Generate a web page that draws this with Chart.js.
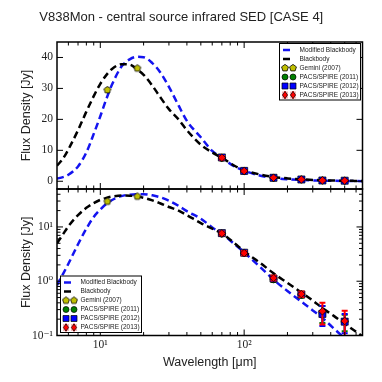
<!DOCTYPE html>
<html>
<head>
<meta charset="utf-8">
<script src="https://cdn.jsdelivr.net/npm/chart.js@4.4.0/dist/chart.umd.min.js"></script>
<style>
html, body { margin: 0; padding: 0; background: #fff; }
#wrap { position: relative; width: 382px; height: 382px; }
#wrap canvas { position: absolute; left: 0; top: 0; }
</style>
</head>
<body>
<div id="wrap">
<canvas id="topChart" width="382" height="382"></canvas>
<canvas id="botChart" width="382" height="382"></canvas>
</div>
<script>
// model curves (Jy)
var wavelength = [5, 5.5, 6, 7, 8, 9, 10, 11, 12, 14, 16, 18, 20, 23, 26, 30, 35, 40, 50, 60, 70, 85, 100, 130, 160, 200, 250, 300, 350, 420, 500, 580, 670];
var modifiedBlackbody = [0.85, 1.35, 2.1, 4.8, 9.3, 15.3, 21.0, 26.5, 31.0, 37.0, 39.4, 40.2, 40.1, 38.2, 35.3, 30.5, 24.5, 19.5, 14.2, 9.8, 7.5, 4.9, 3.4, 1.8, 1.07, 0.66, 0.42, 0.29, 0.21, 0.135, 0.088, 0.06, 0.042];
var blackbody = [5.0, 7.3, 10.3, 16.5, 22.5, 27.5, 31.5, 34.3, 36.2, 37.8, 37.7, 36.2, 34.4, 30.9, 27.3, 23.3, 20.0, 16.5, 11.8, 9.3, 7.6, 5.1, 3.55, 2.15, 1.4, 0.93, 0.62, 0.44, 0.32, 0.23, 0.165, 0.125, 0.095];

// photometry
var geminiWave = [11.2, 18.1];
var geminiFlux = [29.5, 36.5];
var pacsWave = [70, 100, 160, 250, 350, 500];
var pacs2011 = [7.5, 3.3, 1.08, 0.56, 0.26, 0.18];
var pacs2011Err = [0.5, 0.25, 0.1, 0.06, 0.09, 0.06];
var pacs2012 = [7.7, 3.35, 1.12, 0.57, 0.25, 0.18];
var pacs2012Err = [0.5, 0.25, 0.1, 0.06, 0.1, 0.07];
var pacs2013 = [7.6, 3.3, 1.15, 0.58, 0.28, 0.185];
var pacs2013Err = [0.6, 0.3, 0.12, 0.07, 0.12, 0.1];

// ticks
var xMajorTicks = [10, 100];
var xTickLabels = ['10\u00b9', '10\u00b2'];
var xMinorTicks = [6, 7, 8, 9, 20, 30, 40, 50, 60, 70, 80, 90, 200, 300, 400, 500, 600];
var linTicks = [0, 10, 20, 30, 40];
var logTicks = [0.1, 1, 10];
var logTickLabels = ['10\u207b\u00b9', '10\u2070', '10\u00b9'];
var logMinorTicks = [0.2, 0.3, 0.4, 0.5, 0.6, 0.7, 0.8, 0.9, 2, 3, 4, 5, 6, 7, 8, 9, 20, 30, 40, 50];

var BLUE = '#1414f0';
var sans = '"Liberation Sans", Arial, sans-serif';
var serif = '"Liberation Serif", "DejaVu Serif", serif';

function makePentagon(r) {
  var c = document.createElement('canvas');
  var s = Math.ceil(r * 2 + 2);
  c.width = s; c.height = s;
  var g = c.getContext('2d');
  g.beginPath();
  for (var i = 0; i < 5; i++) {
    var a = -Math.PI / 2 + i * 2 * Math.PI / 5;
    var px = s / 2 + r * Math.cos(a), py = s / 2 + r * Math.sin(a);
    if (i) g.lineTo(px, py); else g.moveTo(px, py);
  }
  g.closePath();
  g.fillStyle = '#bfbf00'; g.fill();
  g.lineWidth = 0.8; g.strokeStyle = '#000'; g.stroke();
  return c;
}
var pentagon = makePentagon(3.6);

function xy(xs, ys) {
  return xs.map(function (x, i) { return { x: x, y: ys[i] }; });
}

// chart.js paints low "order" last, so later series get lower order (on top)
function buildDatasets() {
  return [
    { label: 'Modified Blackbody', order: 6, data: xy(wavelength, modifiedBlackbody), showLine: true, borderColor: BLUE,
      borderWidth: 2.5, borderDash: [7, 4], pointRadius: 0, cubicInterpolationMode: 'monotone' },
    { label: 'Blackbody', order: 5, data: xy(wavelength, blackbody), showLine: true, borderColor: '#000',
      borderWidth: 2.5, borderDash: [7, 4], pointRadius: 0, cubicInterpolationMode: 'monotone' },
    { label: 'Gemini (2007)', order: 4, data: xy(geminiWave, geminiFlux), pointStyle: pentagon, pointRadius: 4 },
    { label: 'PACS/SPIRE (2011)', order: 3, data: xy(pacsWave, pacs2011), errors: pacs2011Err, errorColor: '#008000',
      pointStyle: 'circle', pointRadius: 3.5, backgroundColor: '#008000', borderColor: '#000', borderWidth: 0.7 },
    { label: 'PACS/SPIRE (2012)', order: 2, data: xy(pacsWave, pacs2012), errors: pacs2012Err, errorColor: '#0000ff',
      pointStyle: 'rect', pointRadius: 5, backgroundColor: '#0000ff', borderColor: '#000', borderWidth: 0.7 },
    { label: 'PACS/SPIRE (2013)', order: 1, data: xy(pacsWave, pacs2013), errors: pacs2013Err, errorColor: '#ff0000',
      pointStyle: 'rectRot', pointRadius: 3.8, backgroundColor: '#ff0000', borderColor: '#000', borderWidth: 0.7 }
  ];
}

var errorBars = {
  id: 'errorBars',
  beforeDatasetDraw: function (chart, args) {
    var ds = chart.data.datasets[args.index];
    if (!ds.errors) return;
    var xs = chart.scales.x, ys = chart.scales.y, a = chart.chartArea, ctx = chart.ctx;
    ctx.save();
    ctx.beginPath();
    ctx.rect(a.left, a.top, a.right - a.left, a.bottom - a.top);
    ctx.clip();
    ctx.strokeStyle = ds.errorColor;
    ctx.lineWidth = 2;
    ds.data.forEach(function (p, i) {
      var e = ds.errors[i];
      var px = xs.getPixelForValue(p.x);
      var y1 = ys.getPixelForValue(p.y + e);
      var lo = p.y - e;
      var y2 = (ys.type === 'logarithmic' && lo <= 0) ? a.bottom + 10 : ys.getPixelForValue(lo);
      ctx.beginPath();
      ctx.moveTo(px, y1); ctx.lineTo(px, y2);
      ctx.moveTo(px - 3, y1); ctx.lineTo(px + 3, y1);
      ctx.moveTo(px - 3, y2); ctx.lineTo(px + 3, y2);
      ctx.stroke();
    });
    ctx.restore();
  }
};

function framePlugin(yMajor, yMinor) {
  return {
    id: 'frame',
    afterDatasetsDraw: function (chart) {
      var a = chart.chartArea, ctx = chart.ctx, xs = chart.scales.x, ys = chart.scales.y;
      ctx.save();
      ctx.strokeStyle = '#000';
      ctx.lineWidth = 1;
      ctx.beginPath();
      function xTick(v, len) {
        var px = xs.getPixelForValue(v);
        ctx.moveTo(px, a.top); ctx.lineTo(px, a.top + len);
        ctx.moveTo(px, a.bottom); ctx.lineTo(px, a.bottom - len);
      }
      function yTick(v, len) {
        var py = ys.getPixelForValue(v);
        ctx.moveTo(a.left, py); ctx.lineTo(a.left + len, py);
        ctx.moveTo(a.right, py); ctx.lineTo(a.right - len, py);
      }
      xMajorTicks.forEach(function (v) { xTick(v, 6); });
      xMinorTicks.forEach(function (v) { xTick(v, 3.5); });
      yMajor.forEach(function (v) { yTick(v, 6); });
      yMinor.forEach(function (v) { yTick(v, 3.5); });
      ctx.stroke();
      ctx.lineWidth = 1.5;
      ctx.strokeRect(a.left, a.top, a.right - a.left, a.bottom - a.top);
      ctx.restore();
    }
  };
}

var legendItems = [
  { label: 'Modified Blackbody', line: BLUE },
  { label: 'Blackbody', line: '#000' },
  { label: 'Gemini (2007)', marker: 'pentagon' },
  { label: 'PACS/SPIRE (2011)', marker: 'circle', color: '#008000' },
  { label: 'PACS/SPIRE (2012)', marker: 'square', color: '#0000ff' },
  { label: 'PACS/SPIRE (2013)', marker: 'diamond', color: '#ff0000' }
];

function drawMarker(ctx, item, x, y) {
  ctx.lineWidth = 0.7;
  ctx.strokeStyle = '#000';
  if (item.marker === 'pentagon') {
    ctx.drawImage(pentagon, x - pentagon.width / 2, y - pentagon.height / 2);
    return;
  }
  ctx.fillStyle = item.color;
  ctx.beginPath();
  if (item.marker === 'circle') {
    ctx.arc(x, y, 3, 0, Math.PI * 2);
  } else if (item.marker === 'square') {
    ctx.rect(x - 3, y - 3, 6, 6);
  } else {
    ctx.fillStyle = '#f7b4b4';
    ctx.fillRect(x - 3, y - 3.5, 6, 7);
    ctx.strokeStyle = '#ff0000';
    ctx.lineWidth = 1.2;
    ctx.moveTo(x, y - 4); ctx.lineTo(x, y + 4);
    ctx.stroke();
    ctx.beginPath();
    ctx.strokeStyle = '#000';
    ctx.lineWidth = 0.7;
    ctx.fillStyle = item.color;
    ctx.moveTo(x, y - 3.6); ctx.lineTo(x + 2.6, y); ctx.lineTo(x, y + 3.6); ctx.lineTo(x - 2.6, y);
    ctx.closePath();
  }
  ctx.fill();
  ctx.stroke();
}

function boxLegend(left, top) {
  return {
    id: 'boxLegend',
    afterDraw: function (chart) {
      var ctx = chart.ctx, w = 81, h = 56.5, row = 9;
      ctx.save();
      ctx.fillStyle = '#fff';
      ctx.fillRect(left, top, w, h);
      ctx.strokeStyle = '#000';
      ctx.lineWidth = 1;
      ctx.strokeRect(left + 0.5, top + 0.5, w, h);
      var m1 = left + 6, m2 = left + 14, tx = left + 20.5;
      legendItems.forEach(function (item, i) {
        var y = top + 7 + i * row;
        if (item.line) {
          ctx.strokeStyle = item.line;
          ctx.lineWidth = 2.5;
          ctx.beginPath();
          ctx.moveTo(left + 4, y); ctx.lineTo(left + 11, y);
          ctx.stroke();
        } else {
          drawMarker(ctx, item, m1, y);
          drawMarker(ctx, item, m2, y);
        }
        ctx.fillStyle = '#222';
        ctx.font = '6.5px ' + sans;
        ctx.textBaseline = 'middle';
        ctx.fillText(item.label, tx, y);
      });
      ctx.restore();
    }
  };
}

var yTitle = { display: true, text: 'Flux Density [Jy]', color: '#222',
  font: { family: sans, size: 12.5 }, padding: { top: 19, bottom: 0 } };

new Chart(document.getElementById('topChart'), {
  type: 'scatter',
  data: { datasets: buildDatasets() },
  options: {
    responsive: false, animation: false, events: [], devicePixelRatio: 1,
    layout: { padding: { left: 0, right: 19.5, top: 0, bottom: 193 } },
    plugins: {
      legend: { display: false },
      tooltip: { enabled: false },
      title: { display: true, text: 'V838Mon - central source infrared SED [CASE 4]', color: '#222',
        font: { family: sans, size: 13, weight: 'normal' }, padding: { top: 9.5, bottom: 16.9 } }
    },
    scales: {
      x: { type: 'logarithmic', min: 5, max: 665, display: false },
      y: {
        type: 'linear', min: -2.5, max: 45,
        afterFit: function (s) { s.width = 57; },
        afterBuildTicks: function (s) { s.ticks = linTicks.map(function (v) { return { value: v }; }); },
        grid: { display: false, drawTicks: false }, border: { display: false },
        ticks: { padding: 4, color: '#222', font: { family: serif, size: 11.5 },
          callback: function (v, i) { return String(linTicks[i]); } },
        title: yTitle
      }
    }
  },
  plugins: [errorBars, framePlugin(linTicks, []), boxLegend(279, 43)]
});

new Chart(document.getElementById('botChart'), {
  type: 'scatter',
  data: { datasets: buildDatasets() },
  options: {
    responsive: false, animation: false, events: [], devicePixelRatio: 1,
    layout: { padding: { left: 0, right: 19.5, top: 189, bottom: 12 } },
    plugins: { legend: { display: false }, tooltip: { enabled: false } },
    scales: {
      x: {
        type: 'logarithmic', min: 5, max: 665,
        afterFit: function (s) { s.height = 34.5; },
        afterBuildTicks: function (s) { s.ticks = xMajorTicks.map(function (v) { return { value: v }; }); },
        grid: { display: false, drawTicks: false }, border: { display: false },
        ticks: { padding: 3, color: '#222', autoSkip: false, maxRotation: 0, font: { family: serif, size: 11.5 },
          callback: function (v, i) { return xTickLabels[i]; } },
        title: { display: true, text: 'Wavelength [\u03bcm]', color: '#222',
          font: { family: sans, size: 12.5 }, padding: { top: 0, bottom: 0 } }
      },
      y: {
        type: 'logarithmic', min: 0.1, max: 50,
        afterFit: function (s) { s.width = 57; },
        afterBuildTicks: function (s) { s.ticks = logTicks.map(function (v) { return { value: v }; }); },
        grid: { display: false, drawTicks: false }, border: { display: false },
        ticks: { padding: 4, color: '#222', font: { family: serif, size: 11.5 },
          callback: function (v, i) { return logTickLabels[i]; } },
        title: yTitle
      }
    }
  },
  plugins: [errorBars, framePlugin(logTicks, logMinorTicks), boxLegend(60, 275.5)]
});
</script>
</body>
</html>
